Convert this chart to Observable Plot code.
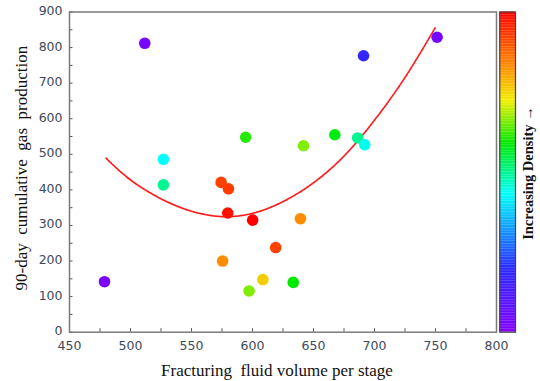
<!DOCTYPE html>
<html>
<head>
<meta charset="utf-8">
<script src="https://cdn.jsdelivr.net/npm/d3@7"></script>
<script src="https://cdn.jsdelivr.net/npm/@observablehq/plot@0.6"></script>
<style>
  html, body { margin: 0; padding: 0; background: #fff; }
  #wrap { position: relative; width: 540px; height: 381px; }
  #wrap svg { position: absolute; left: 0; top: 0; background: transparent; overflow: visible; }
</style>
</head>
<body>
<div id="wrap"></div>
<script>
// ---- data ----
const fluidVolume = [478.7, 511.7, 527, 527, 574.3, 580.3, 579.7, 600.1, 575.5, 597.2, 608.5,
                     619, 633.4, 639.3, 594.4, 641.8, 667.5, 686.2, 692, 691, 751.3];
const gasProduction = [142, 812, 486, 414, 421, 403, 335, 315, 200, 116, 148,
                       238, 140, 319, 548, 524, 555, 546, 527, 777, 829];
const density = [0.02, 0.03, 0.43, 0.50, 0.92, 0.93, 0.98, 1.00, 0.83, 0.66, 0.76,
                 0.92, 0.59, 0.83, 0.61, 0.66, 0.58, 0.50, 0.44, 0.18, 0.04];

// fitted trend curve
const fitX = [480, 500, 525, 550, 575, 600, 625, 650, 675, 700, 725, 750];
const fitY = [489, 428, 375, 340, 325, 334, 367, 420, 495, 596, 716, 857];

const xTicks = [450, 500, 550, 600, 650, 700, 750, 800];
const xMinorTicks = [475, 525, 575, 625, 675, 725, 775];
const yTicks = [0, 100, 200, 300, 400, 500, 600, 700, 800, 900];
const yMinorTicks = [50, 150, 250, 350, 450, 550, 650, 750, 850];

const xTitle = "Fracturing  fluid volume per stage";
const yTitle = "90-day  cumulative  gas  production";
const colorbarTitle = "Increasing Density \u2192";

const rainbowDomain = [0, 0.2, 0.43, 0.59, 0.72, 0.83, 1];
const rainbowRange = ["#8400ff", "#2a2aff", "#00ffff", "#00ea00", "#f0f000", "#ff8c00", "#ff0000"];

// ---- layout ----
const W = 540, H = 381;
const mL = 69, mR = 44, mT = 11.5, mB = 49.3;
const innerH = H - mT - mB;
const innerW = W - mL - mR;

const points = fluidVolume.map((x, i) => ({x, y: gasProduction[i], d: density[i]}));
const fit = fitX.map((x, i) => ({x, y: fitY[i]}));

const serif = "Liberation Serif, Times New Roman, serif";
const tickFont = "DejaVu Sans, sans-serif";
const tickColor = "#3e4a5a";

const main = Plot.plot({
  width: W, height: H,
  marginLeft: mL, marginRight: mR, marginTop: mT, marginBottom: mB,
  x: {domain: [450, 800]},
  y: {domain: [0, 900]},
  color: {type: "linear", domain: rainbowDomain, range: rainbowRange, interpolate: "rgb"},
  style: {background: "transparent"},
  marks: [
    Plot.axisX({ticks: xTicks, tickSize: 0, tickPadding: 8.5, fontSize: 12.5, fontFamily: tickFont, fill: tickColor, label: null}),
    Plot.axisY({ticks: yTicks, tickSize: 0, tickPadding: 7, dy: -1, fontSize: 12.5, fontFamily: tickFont, fill: tickColor, label: null}),
    Plot.tickX([...xTicks, ...xMinorTicks], {x: d => d, insetTop: innerH - 3.5, stroke: "#555", strokeWidth: 1}),
    Plot.tickY([...yTicks, ...yMinorTicks], {y: d => d, insetRight: innerW - 3.5, stroke: "#555", strokeWidth: 1}),
    Plot.line(fit, {x: "x", y: "y", curve: "natural", stroke: "#ff1a1a", strokeWidth: 1.7, strokeDasharray: "1.6,1.2"}),
    Plot.dot(points, {x: "x", y: "y", r: 5.8, fill: d => d.d, stroke: null}),
    Plot.frame({stroke: "#7a7a7a", strokeWidth: 1.5}),
    Plot.text([xTitle], {frameAnchor: "bottom", textAnchor: "middle", dx: -6, dy: 38, fontSize: 17, fontFamily: serif, fill: "#111", lineAnchor: "middle"}),
    Plot.text([yTitle], {frameAnchor: "left", textAnchor: "middle", dx: -47.7, dy: -4, rotate: -90, fontSize: 17, fontFamily: serif, fill: "#111", lineAnchor: "middle"})
  ]
});

// colour bar (legend) as an overlay plot sharing the same vertical extent
const stops = d3.range(0, 1, 0.005);
const bar = Plot.plot({
  width: W, height: H,
  marginLeft: 499.3, marginRight: W - 515, marginTop: mT, marginBottom: mB,
  x: {domain: [0, 1], axis: null},
  y: {domain: [0, 1], axis: null},
  color: {type: "linear", domain: rainbowDomain, range: rainbowRange, interpolate: "rgb"},
  style: {background: "transparent"},
  marks: [
    Plot.rect(stops, {x1: 0, x2: 1, y1: d => d, y2: d => Math.min(1, d + 0.0055), fill: d => d + 0.0025}),
    Plot.frame({stroke: "#444", strokeWidth: 1.2}),
    Plot.text([colorbarTitle], {frameAnchor: "right", textAnchor: "middle", dx: 13.3, dy: 1, rotate: -90, fontSize: 14.5, fontWeight: "bold", fontFamily: serif, fill: "#111", lineAnchor: "middle"})
  ]
});

const wrap = document.getElementById("wrap");
wrap.appendChild(main);
wrap.appendChild(bar);
</script>
</body>
</html>
